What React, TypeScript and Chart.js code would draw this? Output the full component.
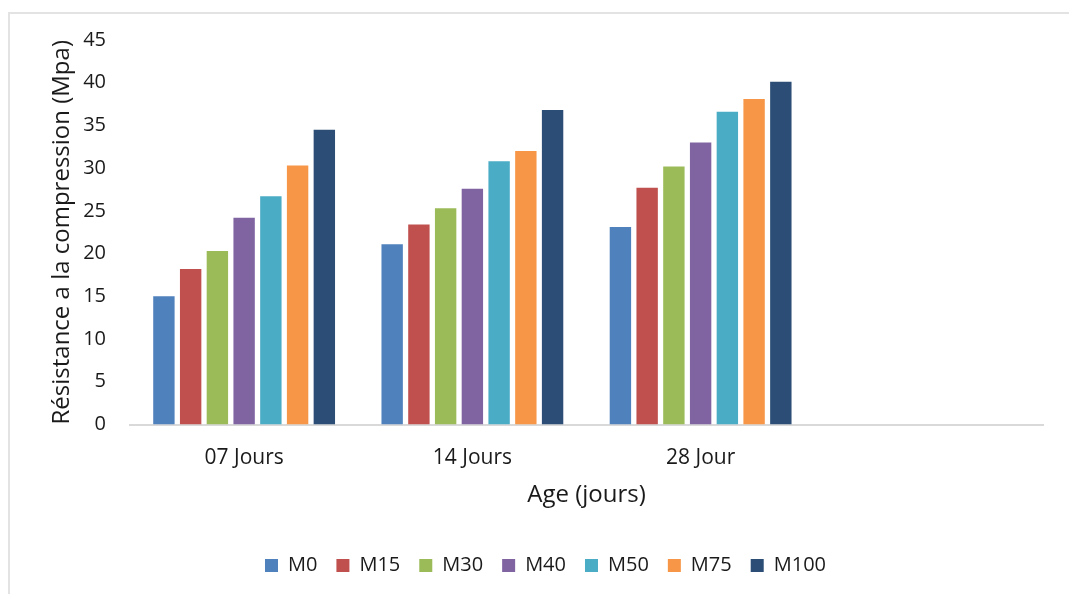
import React, { useEffect, useRef } from 'react';
import { Chart, registerables } from 'chart.js';

Chart.register(...registerables);

const categories = ['07 Jours', '14 Jours', '28 Jour', ''];
const seriesNames = ['M0', 'M15', 'M30', 'M40', 'M50', 'M75', 'M100'];
const m0 = [15.0, 21.1, 23.1, null];
const m15 = [18.2, 23.4, 27.7, null];
const m30 = [20.3, 25.3, 30.2, null];
const m40 = [24.2, 27.6, 33.0, null];
const m50 = [26.7, 30.8, 36.6, null];
const m75 = [30.3, 32.0, 38.1, null];
const m100 = [34.5, 36.8, 40.1, null];
const seriesValues = [m0, m15, m30, m40, m50, m75, m100];
const seriesColors = ['#4F81BD', '#C0504D', '#9BBB59', '#8064A2', '#4BACC6', '#F79646', '#2C4D75'];
const yTitle = 'Résistance a la compression (Mpa)';
const xTitle = 'Age (jours)';

const FONT = "'Open Sans', 'Noto Sans', sans-serif";
const TEXT = '#1a1a1a';

export default function App() {
  const ref = useRef<HTMLCanvasElement>(null);
  useEffect(() => {
    if (!ref.current) return;
    const chart = new Chart(ref.current, {
      type: 'bar',
      data: {
        labels: categories,
        datasets: seriesNames.map((n, i) => ({
          label: n,
          data: seriesValues[i],
          backgroundColor: seriesColors[i],
          borderWidth: 0,
          categoryPercentage: 0.82,
          barPercentage: 0.8,
        })),
      },
      options: {
        animation: false,
        responsive: false,
        devicePixelRatio: 1,
        layout: { padding: { left: 22, right: 0, top: 40, bottom: 8.5 } },
        plugins: {
          tooltip: { enabled: false },
          legend: {
            position: 'bottom',
            labels: {
              boxWidth: 13,
              boxHeight: 13,
              padding: 19,
              color: TEXT,
              font: { family: FONT, size: 20 },
            },
          },
        },
        scales: {
          x: {
            grid: { display: false, drawTicks: false },
            border: { display: true, color: '#d9d9d9', width: 2 },
            ticks: { color: TEXT, font: { family: FONT, size: 21 }, padding: 21 },
            title: {
              display: true,
              text: xTitle,
              color: TEXT,
              font: { family: FONT, size: 24 },
              padding: { top: 0, bottom: 27 },
            },
            afterFit: (s: any) => { s.height = 112; },
          },
          y: {
            min: 0,
            max: 45,
            grid: { display: false, drawTicks: false },
            border: { display: false },
            ticks: { stepSize: 5, color: TEXT, font: { family: FONT, size: 20 }, padding: 24 },
            title: {
              display: true,
              text: yTitle,
              color: TEXT,
              font: { family: FONT, size: 24 },
              padding: { top: 25.6, bottom: 0 },
            },
            afterFit: (s: any) => { s.width = 108; },
          },
          yr: {
            position: 'right',
            grid: { display: false, drawTicks: false },
            border: { display: false },
            ticks: { display: false },
            afterFit: (s: any) => { s.width = 26; },
          },
        },
      } as any,
    });
    return () => chart.destroy();
  }, []);
  return (
    <div>
      <div
        style={{
          position: 'fixed',
          left: 8,
          top: 12,
          right: 0,
          bottom: 0,
          borderTop: '2px solid #e3e3e3',
          borderLeft: '2px solid #e3e3e3',
        }}
      />
      <canvas
        ref={ref}
        width={1069}
        height={594}
        style={{ position: 'fixed', left: 0, top: 0, width: 1069, height: 594 }}
      />
    </div>
  );
}
